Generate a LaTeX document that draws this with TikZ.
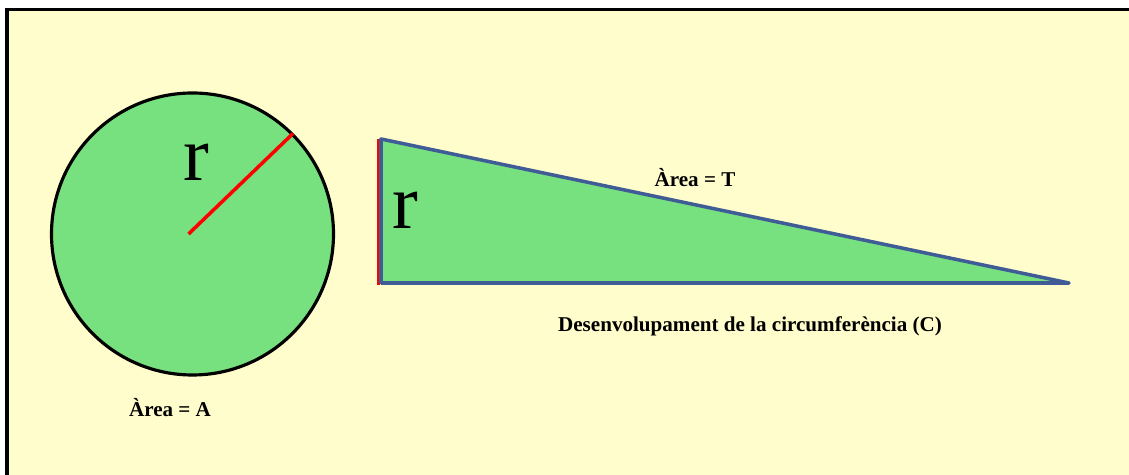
\documentclass[tikz,border=0pt]{standalone}
\usepackage{fontspec}
\setmainfont{Liberation Serif}
\usetikzlibrary{calc}
\definecolor{fonsgroc}{HTML}{FFFDCB}
\definecolor{verd}{HTML}{77E07F}
\definecolor{blau}{HTML}{3F5C97}

\begin{document}
\begin{tikzpicture}[x=0.02cm,y=-0.02cm,
  lbl/.style={font=\bfseries\fontsize{12}{14}\selectfont},
  lletra/.style={font=\fontsize{44}{46}\selectfont,inner sep=0pt}]
 \useasboundingbox (0,0) rectangle (1129,475);
 \fill[fonsgroc] (7,9.5) rectangle (1129,475);
 \draw[line width=1.8pt] (7,475)--(7,9.5)--(1129,9.5);
 % cercle
 \coordinate (O) at (192.5,234); \coordinate (R) at ($(O)+(-45:142)$);
 \filldraw[fill=verd,line width=1.8pt] (O) circle (141);
 \draw[red,line width=2pt] ($(O)+(-4,0)$)--(R);
 \node[lletra] (rc) at (196,162) {r};
 \node[lbl] (areaA) at (170,408) {Àrea = A};
 % triangle
 \coordinate (A) at (381,139); \coordinate (B) at (381,283); \coordinate (C) at (1069,283);
 \draw[red,line width=1.2pt] ($(A)+(-2.5,0)$)--($(B)+(-2.5,2)$);
 \filldraw[fill=verd,draw=blau,line width=2pt,line join=round,line cap=round] (A)--(B)--(C)--cycle;
 \node[lletra] (rt) at (405,210) {r};
 \node[lbl] (areaT) at (695,178) {Àrea = T};
 \node[lbl] (desenv) at (750,326) {Desenvolupament de la circumferència (C)};
\end{tikzpicture}
\end{document}
